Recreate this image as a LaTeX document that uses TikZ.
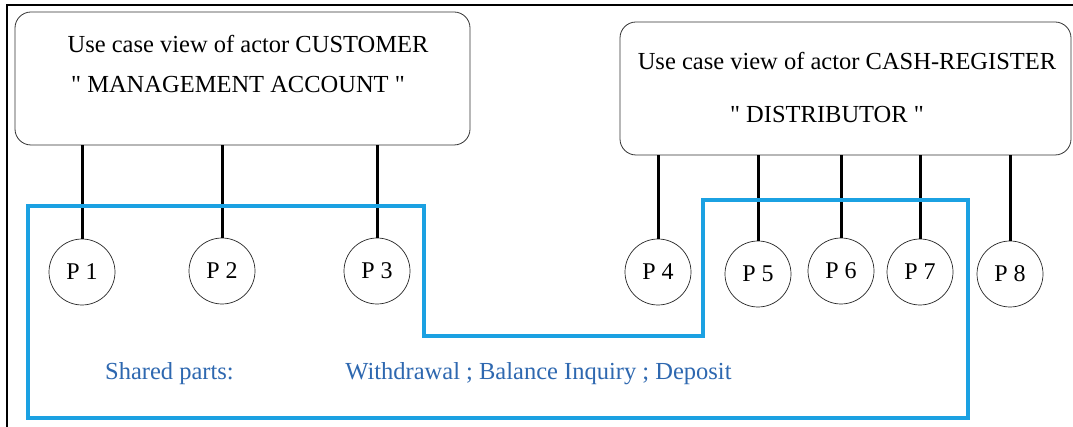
\documentclass[tikz,border=0pt]{standalone}
\usepackage{fontspec}
\setmainfont{Liberation Serif}[Ligatures=TeXOff]
\begin{document}
\begin{tikzpicture}[x=1pt,y=-1pt,
  actorbox/.style={draw=black!80,line width=0.8pt,rounded corners=16pt,inner sep=0pt},
  headtext/.style={font=\fontsize{24.5}{26}\selectfont,anchor=base,inner sep=0pt},
  part/.style={circle,draw=black!85,line width=0.7pt,minimum size=66pt,inner sep=0pt,
    font=\fontsize{24}{26}\selectfont},
  link/.style={draw=black,line width=3pt},
  shared/.style={draw=sharedblue,line width=3.2pt},
  sharedtext/.style={font=\fontsize{24.5}{26}\selectfont,text=sharedtext,anchor=base,inner sep=0pt}]
\definecolor{sharedblue}{RGB}{27,161,226}
\definecolor{sharedtext}{RGB}{46,104,176}
\useasboundingbox (0,0) rectangle (1073,427);
\fill[white] (0,0) rectangle (1073,427);
% outer frame
\draw[line width=2.5pt] (7,427) -- (7,5) -- (1073,5);

% actor boxes
\node[actorbox,minimum width=455pt,minimum height=133pt] (cust) at (242.5,78.5) {};
\node[actorbox,minimum width=451pt,minimum height=133pt] (cash) at (845.5,88.5) {};
\node[headtext] (custA) at (248,53) {Use case view of actor CUSTOMER};
\node[headtext] (custB) at (238,93) {" MANAGEMENT ACCOUNT "};
\node[headtext] (cashA) at (847,70) {Use case view of actor CASH-REGISTER};
\node[headtext] (cashB) at (827,123) {" DISTRIBUTOR "};

% parts
\node[part] (p1) at (82,272) {P 1};
\node[part] (p2) at (222,271) {P 2};
\node[part] (p3) at (377,271) {P 3};
\node[part] (p4) at (658,272) {P 4};
\node[part] (p5) at (758,274) {P 5};
\node[part] (p6) at (841,271) {P 6};
\node[part] (p7) at (920,272) {P 7};
\node[part] (p8) at (1010,274) {P 8};

% links from actors to parts
\foreach \p in {p1,p2,p3}
  \draw[link] (\p.north) -- (\p.north |- cust.south);
\foreach \p in {p4,p5,p6,p7,p8}
  \draw[link] (\p.north) -- (\p.north |- cash.south);

% shared region
\draw[shared] (28,206) -- (424,206) -- (424,336) -- (703,336) -- (703,200)
  -- (968,200) -- (968,418) -- (28,418) -- cycle;
\node[sharedtext] (sp) at (169.5,379) {Shared parts:};
\node[sharedtext] (sl) at (538.5,379) {Withdrawal ; Balance Inquiry ; Deposit};
\end{tikzpicture}
\end{document}
